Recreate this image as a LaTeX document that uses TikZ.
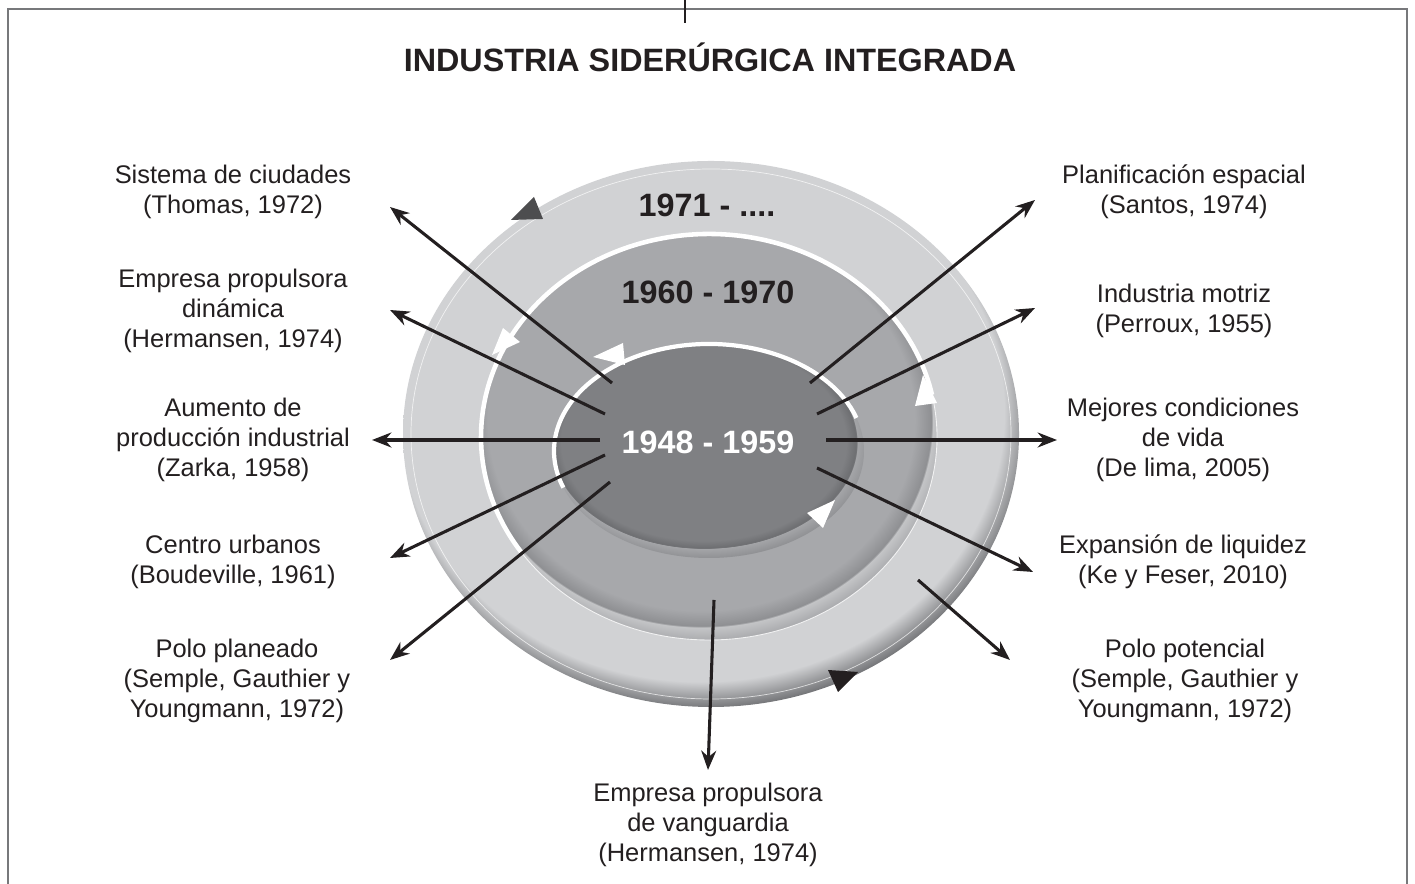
\documentclass[tikz,border=0pt]{standalone}
\usepackage{fontspec}
\setmainfont{Liberation Sans}
\usepackage{xcolor}
\usetikzlibrary{arrows.meta}

\definecolor{ringface}{HTML}{D1D2D4}
\definecolor{ringdark}{HTML}{737477}
\definecolor{midface}{HTML}{A7A8AB}
\definecolor{midshade}{HTML}{8E8F92}
\definecolor{midedge}{HTML}{C4C5C7}
\definecolor{coreface}{HTML}{7F8083}
\definecolor{coreshade}{HTML}{6D6E71}
\definecolor{coreedge}{HTML}{A4A5A8}
\pgfdeclareradialshading{outerdisc}{\pgfpoint{-1.6bp}{3.8bp}}{color(0bp)=(ringface); color(24.6bp)=(ringface); color(26.9bp)=(ringdark); color(50bp)=(ringdark)}
\pgfdeclareradialshading{middisc}{\pgfpoint{-1.6bp}{3.8bp}}{color(0bp)=(midface); color(23.4bp)=(midface); color(25.2bp)=(midshade); color(25.3bp)=(midedge); color(27bp)=(midface); color(50bp)=(midface)}
\pgfdeclareradialshading{innerdisc}{\pgfpoint{-1.6bp}{3.8bp}}{color(0bp)=(coreface); color(23bp)=(coreface); color(24.6bp)=(coreshade); color(24.7bp)=(coreedge); color(27bp)=(midshade); color(50bp)=(midshade)}

\begin{document}
\begin{tikzpicture}[x=0.02cm,y=0.02cm,
  lbl/.style={align=center,font=\fontsize{14.5}{17}\selectfont,text=inkdark,inner sep=0pt},
  yr/.style={font=\fontsize{18.4}{22}\selectfont\bfseries,inner sep=0pt},
  conn/.style={draw=inkdark,line width=1.75pt,-{Stealth[length=11pt,width=8.5pt]}}]
\definecolor{inkdark}{HTML}{231F20}
\definecolor{framegray}{HTML}{77787B}
\definecolor{trigray}{HTML}{4D4D4F}
\useasboundingbox (0,0) rectangle (1415,884);
\draw[framegray,line width=1.4pt] (8,0) -- (8,875) -- (1407,875) -- (1407,0);
\draw[inkdark,line width=0.6pt] (685,884) -- (685,861);
\node[yr,text=inkdark] (title) at (710,827) {INDUSTRIA SIDERÚRGICA INTEGRADA};

\coordinate (oc) at (711,450);
\coordinate (mc) at (709,447);
\coordinate (ic) at (709,433);
\shade[shading=outerdisc] (oc) ellipse [x radius=308, y radius=273];
\draw[white,opacity=0.7,line width=0.4pt] (oc) ellipse [x radius=300, y radius=265];
\shade[shading=middisc] (mc) ellipse [x radius=228, y radius=203];
\draw[white,opacity=0.8,line width=0.5pt] (mc) ellipse [x radius=228, y radius=203];
\draw[white,line width=2.6pt] (mc) ++(12:228 and 203) arc [start angle=12, end angle=215, x radius=228, y radius=203];
\shade[shading=innerdisc] (ic) ellipse [x radius=155, y radius=107];
\draw[white,line width=2.4pt] (ic) ++(18:155 and 107) arc [start angle=18, end angle=200, x radius=155, y radius=107];

\fill[trigray] (511,664) -- (534,687) -- (543,665) -- cycle;
\fill[inkdark] (828,214) -- (858,212) -- (838,192) -- cycle;
\fill[white] (492,529) -- (503,556) -- (520,542) -- cycle;
\fill[white] (915,478) -- (923,509) -- (937,481) -- cycle;
\fill[white] (593,527) -- (623,541) -- (625,519) -- cycle;
\fill[white] (807,371) -- (835,384) -- (823,356) -- cycle;

\node[yr,text=inkdark] (y71) at (707,679) {1971 - ....};
\node[yr,text=inkdark] (y60) at (708,592) {1960 - 1970};
\node[yr,text=white] (y48) at (708,442) {1948 - 1959};

\node[lbl] (ciudades) at (233,692) {Sistema de ciudades\\(Thomas, 1972)};
\node[lbl] (dinamica) at (233,573) {Empresa propulsora\\dinámica\\(Hermansen, 1974)};
\node[lbl] (produccion) at (233,444) {Aumento de\\producción industrial\\(Zarka, 1958)};
\node[lbl] (urbanos) at (233,322) {Centro urbanos\\(Boudeville, 1961)};
\node[lbl] (planeado) at (237,203) {Polo planeado\\(Semple, Gauthier y\\Youngmann, 1972)};
\node[lbl] (vanguardia) at (708,59) {Empresa propulsora\\de vanguardia\\(Hermansen, 1974)};
\node[lbl] (espacial) at (1184,692) {Planificación espacial\\(Santos, 1974)};
\node[lbl] (motriz) at (1184,573) {Industria motriz\\(Perroux, 1955)};
\node[lbl] (vida) at (1183,444) {Mejores condiciones\\de vida\\(De lima, 2005)};
\node[lbl] (liquidez) at (1183,322) {Expansión de liquidez\\(Ke y Feser, 2010)};
\node[lbl] (potencial) at (1185,203) {Polo potencial\\(Semple, Gauthier y\\Youngmann, 1972)};

\foreach \n/\sx/\sy/\tx/\ty in {1/612/501/390/677, 2/605/470/390/574, 3/600/444/372/444,
  4/605/429/390/326, 5/610/402/390/224, 6/714/284/708/114, 7/810/501/1035/684,
  8/817/470/1035/576, 9/826/444/1057/444, 10/817/416/1033/312, 11/918/304/1010/224}
  {\coordinate (s\n) at (\sx,\sy);
   \coordinate (t\n) at (\tx,\ty);
   \draw[conn] (s\n) -- (t\n);}
\end{tikzpicture}
\end{document}
